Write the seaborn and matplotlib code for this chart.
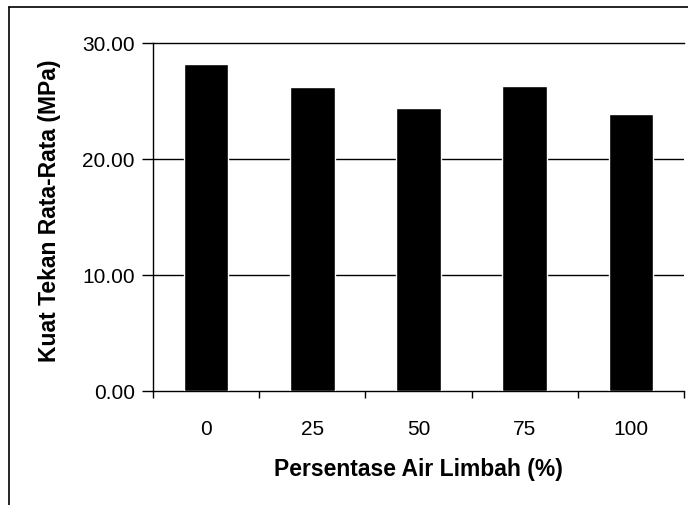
import numpy as np
import pandas as pd
import matplotlib.pyplot as plt
import seaborn as sns
from matplotlib.lines import Line2D

# Data
persen = ["0", "25", "50", "75", "100"]
kuat_tekan = [28.2, 26.2, 24.4, 26.3, 23.85]
y_ticks = [0, 10, 20, 30]

df = pd.DataFrame({"persen": persen, "kuat": kuat_tekan})

sns.set_style("white")
plt.rcParams["font.family"] = ["Liberation Sans", "DejaVu Sans"]
plt.rcParams["text.color"] = "black"
plt.rcParams["axes.labelcolor"] = "black"
plt.rcParams["xtick.color"] = "black"
plt.rcParams["ytick.color"] = "black"

fig = plt.figure(figsize=(6.88, 5.06), dpi=100)
ax = fig.add_axes([153 / 688, 1 - 392 / 506, (684 - 153) / 688, (392 - 44) / 506])

sns.barplot(data=df, x="persen", y="kuat", color="black", width=0.42,
            saturation=1, ax=ax, zorder=3)

ax.set_ylim(0, 30)
ax.set_xlim(-0.5, 4.5)
ax.set_yticks(y_ticks)
ax.set_yticklabels([f"{v:.2f}" for v in y_ticks], fontsize=15)
ax.set_xticks(range(len(persen)))
ax.set_xticklabels(persen, fontsize=15)
ax.tick_params(axis="x", which="major", bottom=True, length=0, pad=20)
ax.tick_params(axis="y", left=True, length=8, width=1, direction="out", pad=5)

# category boundary ticks
ax.set_xticks(np.arange(-0.5, 5, 1), minor=True)
ax.tick_params(axis="x", which="minor", bottom=True, length=5, width=1, direction="out")

for v in [10, 20]:
    ax.axhline(v, color="black", lw=1, zorder=1)

for side in ["left", "top", "right", "bottom"]:
    ax.spines[side].set_color("black")
    ax.spines[side].set_linewidth(1)
ax.spines["right"].set_visible(False)

ax.set_xlabel("Persentase Air Limbah (%)", fontweight="bold", fontsize=16.5, labelpad=14)
ax.set_ylabel("Kuat Tekan Rata-Rata (MPa)", fontweight="bold", fontsize=16.5)
ax.yaxis.set_label_coords(-(153 - 61) / 531, 0.52)

# outer chart frame (cut off at right/bottom)
fig.add_artist(Line2D([9 / 688, 9 / 688], [0, 1 - 8 / 506], color="black", lw=1.2,
                      transform=fig.transFigure))
fig.add_artist(Line2D([9 / 688, 1], [1 - 8 / 506, 1 - 8 / 506], color="black", lw=1.2,
                      transform=fig.transFigure))

fig.savefig("out.png", dpi=100)
